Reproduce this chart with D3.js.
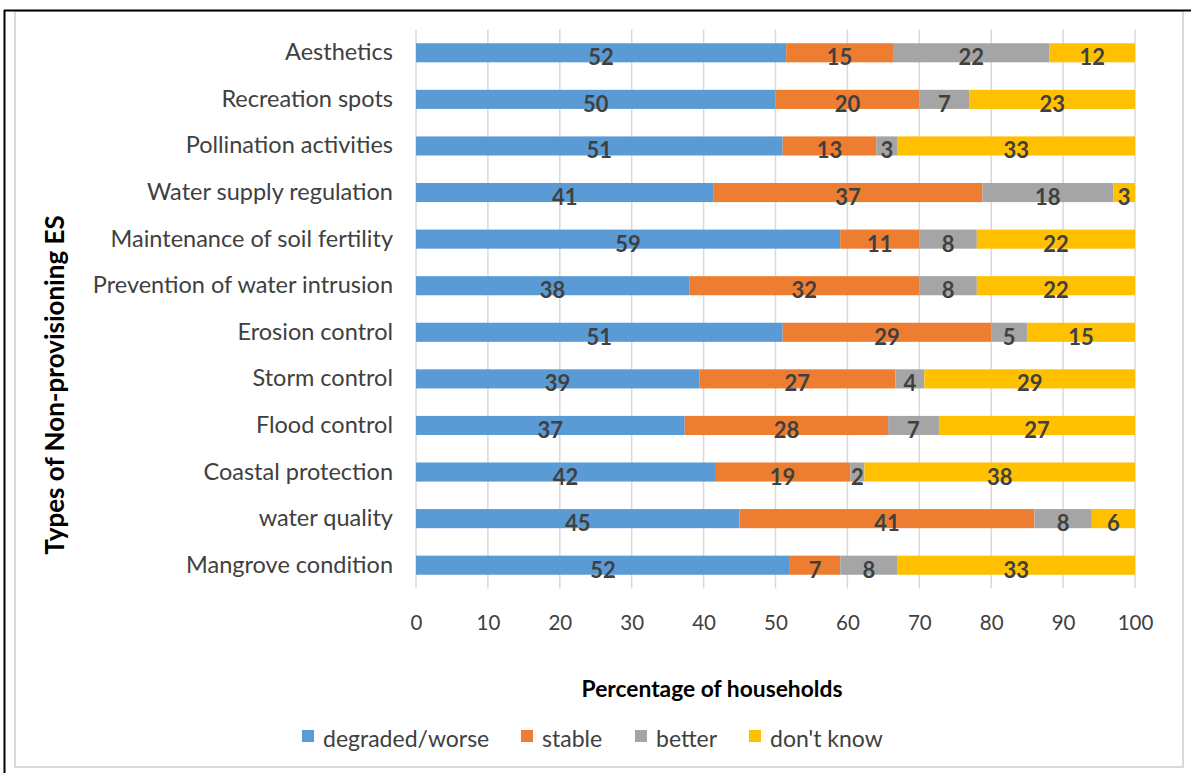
<!DOCTYPE html>
<html>
<head>
<meta charset="utf-8">
<script src="https://cdn.jsdelivr.net/npm/d3@7"></script>
<style>
  html, body { margin: 0; padding: 0; background: #ffffff; }
  svg { display: block; }
  text { font-family: Lato, "Open Sans", sans-serif; }
</style>
</head>
<body>
<svg id="chart" width="1191" height="773"></svg>
<script>
// ---- data ----
const categories = [
  "Aesthetics",
  "Recreation spots",
  "Pollination activities",
  "Water supply regulation",
  "Maintenance of soil fertility",
  "Prevention of water intrusion",
  "Erosion control",
  "Storm control",
  "Flood control",
  "Coastal protection",
  "water quality",
  "Mangrove condition"
];
const seriesNames = ["degraded/worse", "stable", "better", "don't know"];
const degraded = [52, 50, 51, 41, 59, 38, 51, 39, 37, 42, 45, 52];
const stable   = [15, 20, 13, 37, 11, 32, 29, 27, 28, 19, 41, 7];
const better   = [22, 7, 3, 18, 8, 8, 5, 4, 7, 2, 8, 8];
const dontKnow = [12, 23, 33, 3, 22, 22, 15, 29, 27, 38, 6, 33];
const xTicks = [0, 10, 20, 30, 40, 50, 60, 70, 80, 90, 100];
const colors = ["#5B9BD5", "#ED7D31", "#A5A5A5", "#FFC000"];
const xTitle = "Percentage of households";
const yTitle = "Types of Non-provisioning ES";

// ---- build ----
const seriesValues = [degraded, stable, better, dontKnow];
const rows = categories.map((c, i) => {
  const r = { cat: c };
  seriesNames.forEach((s, j) => r[s] = seriesValues[j][i]);
  return r;
});

const svg = d3.select("#chart");

// frame
svg.append("rect").attr("x", 15).attr("y", 11).attr("width", 1168).attr("height", 756)
  .attr("fill", "#fff").attr("stroke", "#d9d9d9").attr("stroke-width", 2);
svg.append("line").attr("x1", 4.5).attr("x2", 4.5).attr("y1", 10).attr("y2", 773)
  .attr("stroke", "#000").attr("stroke-width", 2);
svg.append("line").attr("x1", 4).attr("x2", 1191).attr("y1", 10.5).attr("y2", 10.5)
  .attr("stroke", "#000").attr("stroke-width", 2);

const plot = { left: 416, right: 1135, top: 29.5, bottom: 588.5 };

const x = d3.scaleLinear().domain([0, 100]).range([plot.left, plot.right]);
const y = d3.scaleBand().domain(categories).range([plot.top, plot.bottom]).paddingInner(0.59).paddingOuter(0.295);

const stack = d3.stack().keys(seriesNames).offset(d3.stackOffsetExpand);
const stacked = stack(rows);

// gridlines
svg.append("g").selectAll("line").data(xTicks).join("line")
  .attr("x1", d => x(d)).attr("x2", d => x(d))
  .attr("y1", plot.top).attr("y2", plot.bottom)
  .attr("stroke", "#d9d9d9").attr("stroke-width", 1.5);

// bars
const groups = svg.append("g").selectAll("g").data(stacked).join("g")
  .attr("fill", (d, i) => colors[i]);
groups.selectAll("rect").data(d => d).join("rect")
  .attr("x", d => x(d[0] * 100))
  .attr("width", d => x(d[1] * 100) - x(d[0] * 100))
  .attr("y", d => y(d.data.cat))
  .attr("height", y.bandwidth());

// data labels
groups.each(function(s) {
  d3.select(this).selectAll("text").data(s).join("text")
    .attr("x", d => (x(d[0] * 100) + x(d[1] * 100)) / 2)
    .attr("y", d => y(d.data.cat) + y.bandwidth() / 2 + 4)
    .attr("text-anchor", "middle")
    .attr("dominant-baseline", "central")
    .attr("fill", "#404040")
    .attr("font-size", 22)
    .attr("font-weight", 700)
    .text(d => d.data[s.key]);
});

// category axis
const yAxis = d3.axisLeft(y).tickSize(0).tickPadding(23);
const gy = svg.append("g").attr("transform", `translate(${plot.left},0)`).call(yAxis);
gy.select(".domain").remove();
gy.selectAll("text").attr("font-size", 23.5).attr("fill", "#404040")
  .attr("font-family", "Lato, sans-serif").attr("dy", "0.32em");

// value axis
const xAxis = d3.axisBottom(x).tickValues(xTicks).tickSize(0).tickPadding(0);
const gx = svg.append("g").attr("transform", `translate(0,${plot.bottom})`).call(xAxis);
gx.select(".domain").remove();
gx.selectAll("text").attr("font-size", 20.5).attr("fill", "#404040")
  .attr("font-family", "Lato, sans-serif").attr("dy", null)
  .attr("y", 33).attr("dominant-baseline", "central");

// axis titles
svg.append("text").attr("x", 712).attr("y", 688).attr("text-anchor", "middle")
  .attr("dominant-baseline", "central").attr("font-size", 22.8).attr("font-weight", 700)
  .attr("fill", "#000").text(xTitle);
svg.append("text").attr("transform", "translate(54,385) rotate(-90)").attr("text-anchor", "middle")
  .attr("dominant-baseline", "central").attr("font-size", 26).attr("font-weight", 700)
  .attr("fill", "#000").text(yTitle);

// legend
const legendX = [302, 521, 635, 749];
const lg = svg.append("g").selectAll("g").data(seriesNames).join("g")
  .attr("transform", (d, i) => `translate(${legendX[i]},737)`);
lg.append("rect").attr("x", 0).attr("y", -7).attr("width", 12).attr("height", 12)
  .attr("fill", (d, i) => colors[i]);
lg.append("text").attr("x", 21).attr("y", 1).attr("dominant-baseline", "central")
  .attr("font-size", 23).attr("fill", "#404040").text(d => d);
</script>
</body>
</html>
